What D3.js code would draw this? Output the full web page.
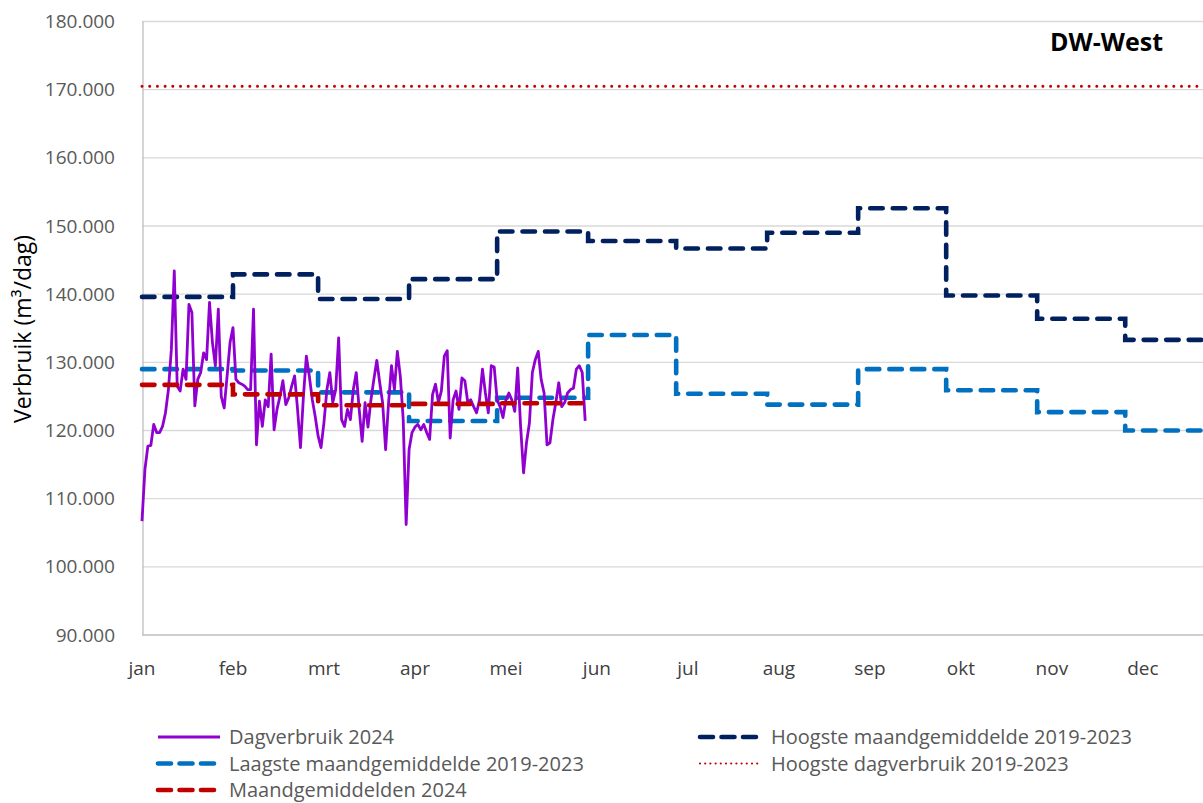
<!DOCTYPE html>
<html>
<head>
<meta charset="utf-8">
<script src="https://cdn.jsdelivr.net/npm/d3@7"></script>
<style>
  body { margin: 0; background: #fff; }
  svg { display: block; font-family: "Open Sans", sans-serif; }
</style>
</head>
<body>
<div id="chart"></div>
<script>
// -DATA- (m³/dag)
const monthLabels = ["jan", "feb", "mrt", "apr", "mei", "jun", "jul", "aug", "sep", "okt", "nov", "dec"];
// day-of-year where each month starts (2024)
const monthStarts = [0, 31, 60, 91, 121, 152, 182, 213, 244, 274, 305, 335, 366];

const hoogsteMaand = [139600, 142900, 139300, 142200, 149200, 147800, 146700, 149000, 152600, 139800, 136400, 133300];
const laagsteMaand = [129000, 128800, 125600, 121400, 124800, 134000, 125400, 123800, 129000, 125900, 122700, 120000];
const maand2024 = [126700, 125300, 123700, 123900, 124000];
const hoogsteDag = 170500;

// Dagverbruik 2024, from 1 jan
const dag2024 = [
  106700, 114300, 117700, 117800, 120900, 119700, 119700, 120600, 122600, 126000,
  131900, 143400, 126500, 125800, 129000, 127500, 138500, 137300, 123600, 127500,
  128500, 131400, 130400, 138800, 132900, 129500, 137800, 125000, 123300, 128000,
  132900, 135100, 127500, 127000, 126800, 126500, 126000, 126000, 137800,
  117900, 124300, 120600, 124500, 123500, 131200, 120100, 123100, 125000, 127300,
  123800, 124800, 126500, 128000, 123100, 117500, 125000, 130900, 128000, 124600,
  122100, 119200, 117500, 121200, 126000, 128500, 124100, 126000, 133600, 121600,
  120600, 123100, 121600, 126000, 128500, 123100, 118400, 124100,
  120500, 124500, 127500, 130300, 127000, 124000, 117200, 124000, 129500, 126000,
  131600, 128000, 121600, 106200, 117200, 119700, 120500, 120900, 120100, 120900,
  119700, 118700, 125300, 126800, 124100, 125800, 130900, 131700, 118900, 124500,
  125800, 123100, 127700, 127300, 124100, 124500, 123500, 122600, 124500, 129000,
  125500,
  122600, 129500, 129300, 124500, 123500, 121900, 124500, 125500, 124500, 122800,
  129200, 120600, 113800, 118200, 121100, 128500, 130400, 131600, 127500, 125500,
  117900, 118200, 121600, 124100, 127000, 123500, 124100, 125500, 126000, 126200,
  129000, 129500, 128500, 121400
];

const yTicks = [90000, 100000, 110000, 120000, 130000, 140000, 150000, 160000, 170000, 180000];

// -SIZES-
const width = 1203, height = 803;
const plot = { left: 142, top: 21.5, bottom: 635, right: 142 + 366 * 2.935 };

const colors = {
  dag: "#9000D0",
  hoog: "#002060",
  laag: "#0070C0",
  maand: "#C00000",
  grid: "#D9D9D9",
  axis: "#BFBFBF",
  text: "#595959"
};

const nl = d3.formatLocale({ decimal: ",", thousands: ".", grouping: [3], currency: ["€", ""] });
const fmt = nl.format(",.0f");

const svg = d3.select("#chart").append("svg")
  .attr("width", width)
  .attr("height", height);

svg.append("rect").attr("width", width).attr("height", height).attr("fill", "#fff");

// scales
const x = d3.scaleLinear().domain([0, 366]).range([plot.left, plot.right]);
const y = d3.scaleLinear().domain([90000, 180000]).range([plot.bottom, plot.top]);

// gridlines
svg.append("g")
  .selectAll("line")
  .data(yTicks.slice(1))
  .enter()
  .append("line")
  .attr("x1", plot.left)
  .attr("x2", plot.right)
  .attr("y1", d => y(d))
  .attr("y2", d => y(d))
  .attr("stroke", colors.grid)
  .attr("stroke-width", 1.3);

// axes lines
svg.append("line")
  .attr("x1", plot.left + 1).attr("x2", plot.left + 1)
  .attr("y1", plot.top).attr("y2", plot.bottom)
  .attr("stroke", colors.axis).attr("stroke-width", 1.3);
svg.append("line")
  .attr("x1", plot.left).attr("x2", plot.right)
  .attr("y1", plot.bottom).attr("y2", plot.bottom)
  .attr("stroke", colors.axis).attr("stroke-width", 1.3);

// y tick labels
svg.append("g")
  .selectAll("text")
  .data(yTicks)
  .enter()
  .append("text")
  .attr("x", 115)
  .attr("y", d => y(d))
  .attr("dy", "0.35em")
  .attr("text-anchor", "end")
  .attr("font-size", 19)
  .attr("fill", colors.text)
  .text(d => fmt(d));

// x tick labels (every 31 days)
svg.append("g")
  .selectAll("text")
  .data(monthLabels)
  .enter()
  .append("text")
  .attr("x", (d, i) => x(i * 31))
  .attr("y", 675)
  .attr("text-anchor", "middle")
  .attr("font-size", 19)
  .attr("fill", "#404040")
  .text(d => d);

// y axis title
svg.append("text")
  .attr("transform", "translate(31, 329) rotate(-90)")
  .attr("text-anchor", "middle")
  .attr("font-size", 23)
  .attr("fill", "#000")
  .text("Verbruik (m³/dag)");

// chart title
svg.append("text")
  .attr("x", 1163)
  .attr("y", 51)
  .attr("text-anchor", "end")
  .attr("font-size", 25)
  .attr("font-weight", "bold")
  .attr("fill", "#000")
  .text("DW-West");

// clip
svg.append("clipPath").attr("id", "clip")
  .append("rect")
  .attr("x", plot.left - 3).attr("y", plot.top - 5)
  .attr("width", plot.right - plot.left + 6).attr("height", plot.bottom - plot.top + 10);

const g = svg.append("g").attr("clip-path", "url(#clip)");

// step lines from monthly values
const stepLine = d3.line()
  .x(d => x(d[0]))
  .y(d => y(d[1]))
  .curve(d3.curveStepAfter);

function monthPoints(vals) {
  const pts = vals.map((v, i) => [monthStarts[i], v]);
  pts.push([monthStarts[vals.length], vals[vals.length - 1]]);
  return pts;
}

const dash = "12.5,10";

// hoogste dagverbruik (dotted)
g.append("line")
  .attr("x1", x(0)).attr("x2", x(366))
  .attr("y1", y(hoogsteDag)).attr("y2", y(hoogsteDag))
  .attr("stroke", colors.maand)
  .attr("stroke-width", 3)
  .attr("stroke-linecap", "round")
  .attr("stroke-dasharray", "0,7.7");

g.append("path")
  .datum(monthPoints(hoogsteMaand))
  .attr("d", stepLine)
  .attr("fill", "none")
  .attr("stroke", colors.hoog)
  .attr("stroke-width", 4.6)
  .attr("stroke-linecap", "round")
  .attr("stroke-dasharray", dash);

g.append("path")
  .datum(monthPoints(laagsteMaand))
  .attr("d", stepLine)
  .attr("fill", "none")
  .attr("stroke", colors.laag)
  .attr("stroke-width", 4.6)
  .attr("stroke-linecap", "round")
  .attr("stroke-dasharray", dash);

// dagverbruik
const dayLine = d3.line()
  .x((d, i) => x(i))
  .y(d => y(d));

g.append("path")
  .datum(dag2024)
  .attr("d", dayLine)
  .attr("fill", "none")
  .attr("stroke", colors.dag)
  .attr("stroke-width", 2.8)
  .attr("stroke-linejoin", "round");

g.append("path")
  .datum(monthPoints(maand2024))
  .attr("d", stepLine)
  .attr("fill", "none")
  .attr("stroke", colors.maand)
  .attr("stroke-width", 4.6)
  .attr("stroke-linecap", "round")
  .attr("stroke-dasharray", dash);

// -LEGEND-
const legendItems = [
  { name: "Dagverbruik 2024", color: colors.dag, type: "solid", col: 0, row: 0 },
  { name: "Hoogste maandgemiddelde 2019-2023", color: colors.hoog, type: "dash", col: 1, row: 0 },
  { name: "Laagste maandgemiddelde 2019-2023", color: colors.laag, type: "dash", col: 0, row: 1 },
  { name: "Hoogste dagverbruik 2019-2023", color: colors.maand, type: "dot", col: 1, row: 1 },
  { name: "Maandgemiddelden 2024", color: colors.maand, type: "dash", col: 0, row: 2 }
];

const legend = svg.append("g").attr("id", "legend");
const legendRows = legend.selectAll("g")
  .data(legendItems)
  .enter()
  .append("g")
  .attr("transform", d => "translate(" + (d.col === 0 ? 158 : 700) + "," + (737 + d.row * 26.5) + ")");

legendRows.append("line")
  .attr("x1", 0).attr("x2", d => d.type === "solid" ? 62 : 61)
  .attr("y1", 0).attr("y2", 0)
  .attr("stroke", d => d.color)
  .attr("stroke-width", d => d.type === "solid" ? 3 : d.type === "dot" ? 2.2 : 4.6)
  .attr("stroke-linecap", d => d.type === "solid" ? "butt" : "round")
  .attr("stroke-dasharray", d => d.type === "dash" ? "13,8.5" : d.type === "dot" ? "0,5.2" : null);

legendRows.append("text")
  .attr("x", 71)
  .attr("y", 0)
  .attr("dy", "0.35em")
  .attr("font-size", 20)
  .attr("fill", colors.text)
  .text(d => d.name);
</script>
</body>
</html>
